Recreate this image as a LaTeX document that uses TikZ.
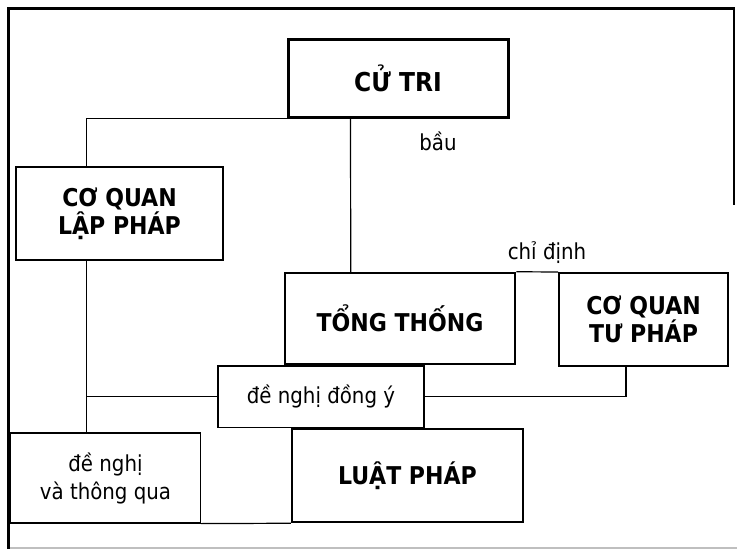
\documentclass[tikz,border=0pt]{standalone}
\usepackage{fontspec}
\setmainfont{DejaVu Sans Condensed}
\begin{document}
\begin{tikzpicture}[x=1pt,y=-1pt,
  boldbox/.style={draw, line width=2.5pt, inner sep=0pt, align=center,
    font=\fontsize{24.5}{28}\selectfont\bfseries},
  thinbox/.style={draw, line width=1.2pt, inner sep=0pt, align=center,
    font=\fontsize{22}{28}\selectfont},
  lbl/.style={inner sep=0pt, font=\fontsize{22}{24}\selectfont},
  conn/.style={line width=1.2pt},
  frameline/.style={line width=3pt}]
\useasboundingbox (0,0) rectangle (737,549);
% outer frame
\draw[frameline] (8,549) -- (8,8.5) -- (734.5,8.5);
\draw[line width=2.5pt] (734,8.5) -- (734,205);
\draw[line width=1.2pt, black!25] (10,548) -- (737,548);
% boxes
\node[boldbox, line width=3pt, minimum width=220pt, minimum height=78pt, font=\fontsize{26}{28}\selectfont\bfseries] (cutri) at (398,78) {CỬ TRI};
\node[boldbox, line width=2pt, minimum width=207pt, minimum height=93pt] (lap) at (119.5,213.5) {CƠ QUAN\\LẬP PHÁP};
\node[boldbox, minimum width=230pt, minimum height=91pt] (tong) at (400,318.5) {TỔNG THỐNG};
\node[boldbox, line width=2pt, minimum width=169pt, minimum height=93pt] (tu) at (643.5,319.5) {CƠ QUAN\\TƯ PHÁP};
\node[thinbox, minimum width=206pt, minimum height=61.5pt] (dongy) at (321,396.75) {đề nghị đồng ý};
\node[thinbox, minimum width=190pt, minimum height=90pt] (thongqua) at (105.5,478) {đề nghị\\và thông qua};
\node[boldbox, minimum width=231pt, minimum height=93pt] (luat) at (407.5,475.5) {LUẬT PHÁP};
% labels
\node[lbl] (bau) at (438,141) {bầu};
\node[lbl] (chidinh) at (547,253) {chỉ định};
% connectors
\coordinate (lapt) at ([xshift=71.5pt]lap.north west);
\coordinate (lapb) at ([xshift=71.5pt]lap.south west);
\coordinate (cutrib) at ([xshift=64pt]cutri.south west);
\coordinate (tongt) at ([xshift=67pt]tong.north west);
\coordinate (tub) at ([xshift=68pt]tu.south west);
\draw[conn] (cutri.south west) -| (lapt);
\draw[conn] (cutrib) -- (tongt);
\draw[conn] (tong.north east) -- (tu.north west);
\draw[conn] (lapb) -- (lapb |- thongqua.north);
\draw[conn] (dongy.west) -- (dongy.west -| lapb);
\draw[conn] (dongy.east) -| (tub);
\draw[conn] (thongqua.south east) -- (luat.south west);
\end{tikzpicture}
\end{document}
